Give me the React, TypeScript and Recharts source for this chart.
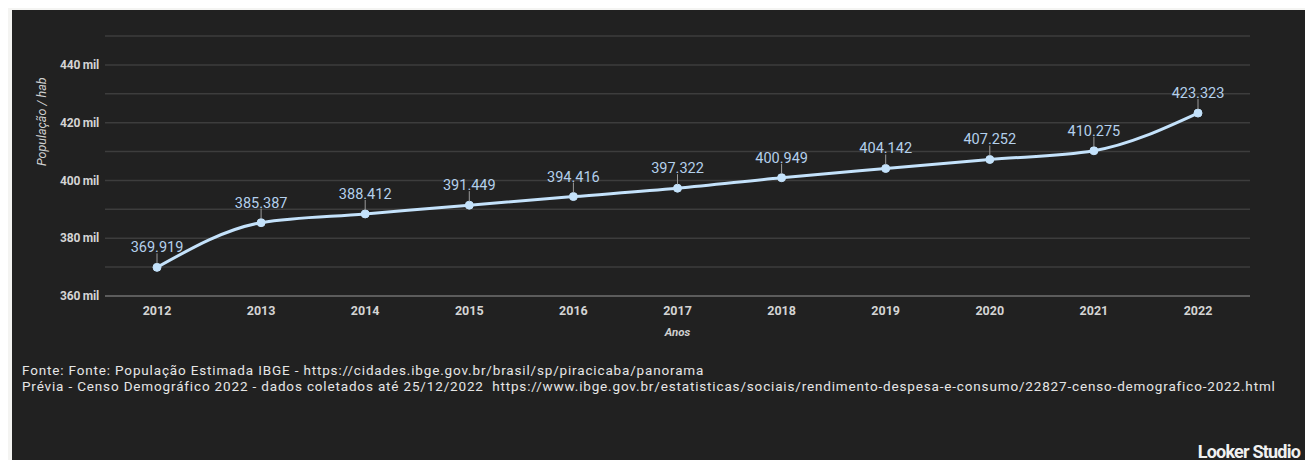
import { LineChart, Line, XAxis, YAxis, CartesianGrid, Label } from 'recharts';

const years = ['2012', '2013', '2014', '2015', '2016', '2017', '2018', '2019', '2020', '2021', '2022'];
const population = [369919, 385387, 388412, 391449, 394416, 397322, 400949, 404142, 407252, 410275, 423323];
const yTicks = [360000, 370000, 380000, 390000, 400000, 410000, 420000, 430000, 440000, 450000];
const footerLines = [
  'Fonte: Fonte: População Estimada IBGE - https://cidades.ibge.gov.br/brasil/sp/piracicaba/panorama',
  'Prévia - Censo Demográfico 2022 - dados coletados até 25/12/2022  https://www.ibge.gov.br/estatisticas/sociais/rendimento-despesa-e-consumo/22827-censo-demografico-2022.html',
];

const chartData = years.map((year, i) => ({ year, population: population[i] }));

const font = 'Roboto, "Noto Sans", sans-serif';

// value label with a short leader line above each point
const ValueLabel = (props: any) => {
  const { x, y, value } = props;
  const text = String(value).replace(/\B(?=(\d{3})+(?!\d))/g, '.');
  return (
    <g>
      <line x1={x} x2={x} y1={y - 4} y2={y - 14} stroke="#9a9a9a" strokeWidth={1} />
      <text x={x} y={y - 15} textAnchor="middle" fill="#b4d0ec" fontSize={14.5} fontFamily={font}>
        {text}
      </text>
    </g>
  );
};

export default function App() {
  return (
    <div style={{ position: 'relative', width: 1313, height: 468, margin: -8, background: '#f4f4f2', overflow: 'hidden' }}>
      <div style={{ position: 'absolute', left: 12, top: 10, right: 3, bottom: 0, background: '#212121' }} />
      <div style={{ position: 'absolute', left: 0, top: 0 }}>
        <LineChart width={1313} height={468} data={chartData} margin={{ top: 36, right: 63, left: 45, bottom: 142 }}>
          <CartesianGrid vertical={false} stroke="#3d3d3d" strokeWidth={1.5} />
          <XAxis
            dataKey="year"
            height={30}
            padding={{ left: 52, right: 52 }}
            stroke="#6a6a6a"
            strokeWidth={1.5}
            tickLine={false}
            tickSize={0}
            tickMargin={10}
            tick={{ fill: '#d4d4d4', fontSize: 12.5, fontWeight: 700, fontFamily: font }}
          >
            <Label value="Anos" position="insideBottom" offset={-10} fill="#cfcfcf" fontSize={11.5} fontStyle="italic" fontWeight={700} fontFamily={font} />
          </XAxis>
          <YAxis
            domain={[360000, 450000]}
            ticks={yTicks}
            width={60}
            axisLine={false}
            tickLine={false}
            tickSize={0}
            tickMargin={6}
            tickFormatter={(v: number) => (v % 20000 === 0 ? `${v / 1000} mil` : '')}
            tick={{ fill: '#d4d4d4', fontSize: 12, fontWeight: 700, fontFamily: font, letterSpacing: -0.2 }}
          >
            <Label value="População / hab" angle={-90} position="insideLeft" offset={-3} fill="#cfcfcf" fontSize={12.5} fontStyle="italic" fontFamily={font} />
          </YAxis>
          <Line
            type="monotone"
            dataKey="population"
            stroke="#c4e2fb"
            strokeWidth={3}
            dot={{ r: 4, fill: '#c4e2fb', stroke: '#c4e2fb', strokeWidth: 1 }}
            label={<ValueLabel />}
            isAnimationActive={false}
          />
        </LineChart>
      </div>
      {footerLines.map((t, i) => (
        <div
          key={i}
          style={{
            position: 'absolute', left: 22, top: 362 + i * 16, fontFamily: font, fontSize: 13.5,
            color: '#e6e6e6', whiteSpace: 'pre', letterSpacing: 0.84,
          }}
        >
          {t}
        </div>
      ))}
      <div style={{ position: 'absolute', right: 13, top: 441, fontFamily: font, fontSize: 18, fontWeight: 700, color: '#f0f0f0', letterSpacing: -0.8 }}>
        Looker Studio
      </div>
    </div>
  );
}
